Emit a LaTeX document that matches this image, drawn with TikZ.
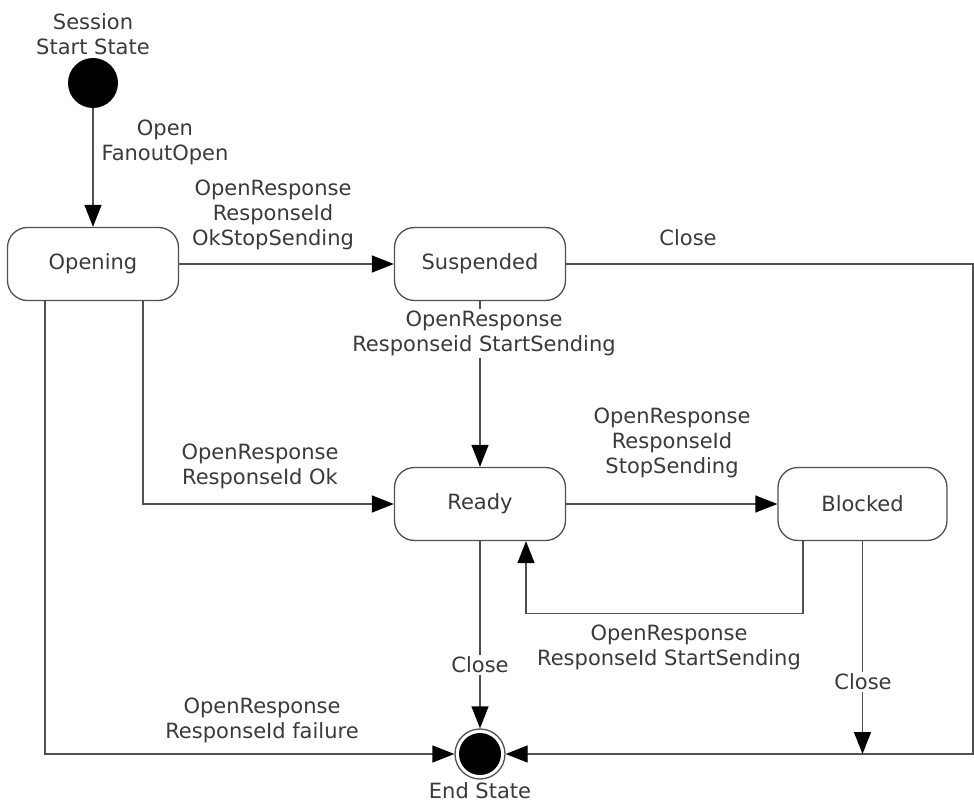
\documentclass[tikz,border=0pt]{standalone}
\usepackage{fontspec}
\setmainfont{DejaVu Sans}
\usetikzlibrary{arrows.meta}
\definecolor{ln}{HTML}{505050}
\definecolor{txt}{HTML}{3A3A3A}
\begin{document}
\begin{tikzpicture}[x=1pt,y=-1pt,
  font=\fontsize{21}{25}\selectfont,
  text=txt,
  state/.style={draw=ln, line width=1.3pt, rounded corners=20pt, minimum width=171pt, minimum height=73pt, inner sep=0pt, fill=white},
  conn/.style={draw=ln, line width=1.3pt, -{Triangle[length=22pt,width=17pt,color=black]}},
  lbl/.style={align=center, inner sep=1pt},
  onl/.style={lbl, fill=white, inner sep=2pt}]
\useasboundingbox (0,0) rectangle (974,802);

% states
\node[circle, fill=black, minimum size=50pt, inner sep=0pt] (start) at (93,83) {};
\node[lbl] (startlbl) at (93,34) {Session\\Start State};
\node[state] (opening) at (93,264) {Opening};
\node[state] (susp) at (480,264) {Suspended};
\node[state] (ready) at (480,504) {Ready};
\node[state, minimum width=169pt] (blocked) at (862.5,504) {Blocked};
\node[circle, draw=ln, line width=1.3pt, fill=white, minimum size=50pt, inner sep=0pt] (end) at (480,754) {};
\fill[black] (end.center) circle (21pt);
\node[lbl] (endlbl) at (480,791) {End State};

% corner coordinates
\coordinate (re1) at (973,264);
\coordinate (re2) at (973,754);

% connectors
\draw[conn] (start) -- (opening);
\draw[conn] (opening) -- (susp);
\draw[conn] (susp.east) -- (re1) -- (re2) -- (end.east);
\draw[conn] (susp) -- (ready);
\draw[conn] ([xshift=50pt]opening.south) |- (ready.west);
\draw[conn] ([xshift=-48pt]opening.south) |- (end.west);
\draw[conn] (ready) -- (blocked);
\draw[conn] ([xshift=-59.5pt]blocked.south) -- ++(0,72) -| ([xshift=46pt]ready.south);
\draw[conn] (ready) -- (end);
\draw[conn] (blocked.south) -- (blocked.south |- end.center);

% labels
\node[lbl] (l1) at (165,142.5) {Open\\FanoutOpen};
\node[lbl] (l2) at (273,215) {OpenResponse\\ResponseId\\OkStopSending};
\node[lbl] (l3) at (688,238) {Close};
\node[onl] (l4) at (484,333.5) {OpenResponse\\Responseid StartSending};
\node[lbl] (l5) at (260,466.5) {OpenResponse\\ResponseId Ok};
\node[lbl] (l6) at (262,720) {OpenResponse\\ResponseId failure};
\node[lbl] (l7) at (672,443) {OpenResponse\\ResponseId\\StopSending};
\node[lbl] (l8) at (669,647.5) {OpenResponse\\ResponseId StartSending};
\node[onl] (l9) at (480,665) {Close};
\node[onl] (l10) at (863,682) {Close};
\end{tikzpicture}
\end{document}
